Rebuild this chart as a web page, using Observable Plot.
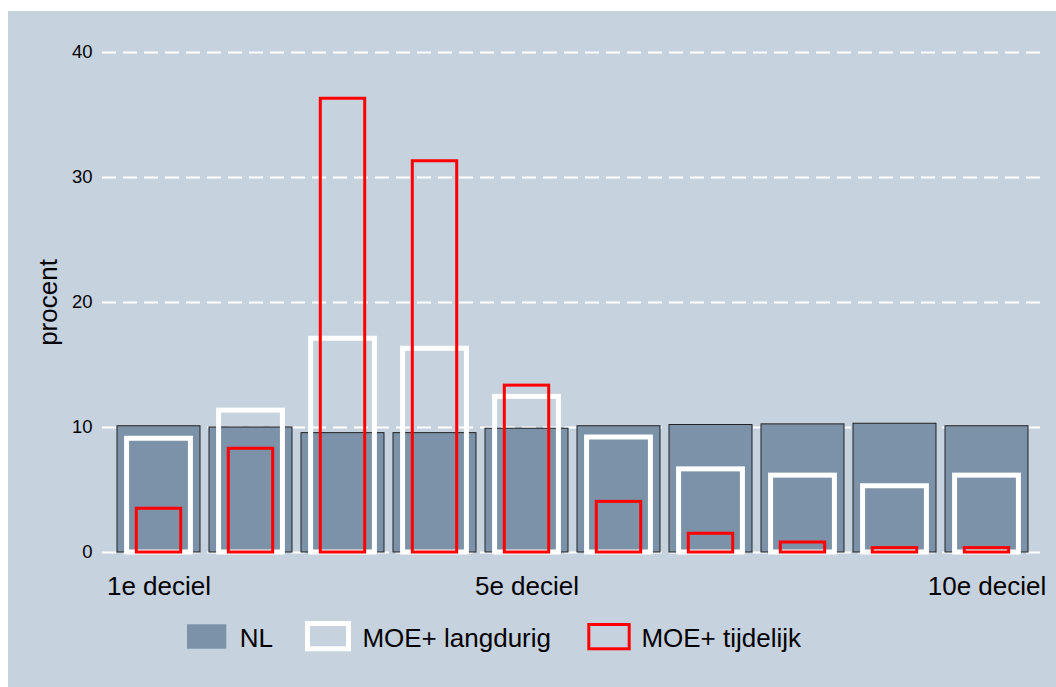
<!DOCTYPE html>
<html>
<head>
<meta charset="utf-8">
<script src="https://cdn.jsdelivr.net/npm/d3@7"></script>
<script src="https://cdn.jsdelivr.net/npm/@observablehq/plot@0.6"></script>
<style>
  html, body { margin: 0; padding: 0; background: #fff; }
  #page { position: relative; width: 1056px; height: 687px; background: #fff; overflow: hidden; }
  #panel { position: absolute; left: 8px; top: 11px; width: 1048px; height: 676px; background: #c6d2de; }
  #panel svg { position: absolute; left: 0; top: 0; }
</style>
</head>
<body>
<div id="page"><div id="panel"></div></div>
<script>
// ---- data ----
const deciles = [1, 2, 3, 4, 5, 6, 7, 8, 9, 10];
const nl = [10.1, 10.0, 9.55, 9.55, 9.9, 10.1, 10.2, 10.25, 10.3, 10.1];
const langdurig = [9.1, 11.35, 17.1, 16.3, 12.45, 9.2, 6.65, 6.15, 5.3, 6.15];
const tijdelijk = [3.5, 8.3, 36.3, 31.3, 13.35, 4.05, 1.5, 0.8, 0.35, 0.35];
const yTicks = [0, 10, 20, 30, 40];
const xTickValues = [1, 5, 10];
const xTickLabels = ["1e deciel", "5e deciel", "10e deciel"];
const seriesNames = ["NL", "MOE+ langdurig", "MOE+ tijdelijk"];
const yLabel = "procent";

const rows = deciles.map((d, i) => ({decile: d, nl: nl[i], lang: langdurig[i], tijd: tijdelijk[i]}));

const font = "'Liberation Sans', Arial, Helvetica, sans-serif";
const nlColor = "#7b92a8";

const chart = Plot.plot({
  width: 1048,
  height: 590,
  marginTop: 41,
  marginBottom: 49,
  marginLeft: 94,
  marginRight: 13,
  style: {background: "transparent", color: "#000", fontFamily: font},
  x: {type: "band", domain: deciles, range: [108.7, 1020], paddingInner: 0.098, paddingOuter: 0, align: 0.5},
  y: {domain: [0, 40], range: [541, 41]},
  marks: [
    Plot.ruleY(yTicks, {stroke: "#fff", strokeWidth: 2, strokeDasharray: "14,7"}),
    Plot.barY(rows, {x: "decile", y: "nl", fill: nlColor, stroke: "#222", strokeWidth: 1}),
    Plot.barY(rows, {x: "decile", y: "lang", fill: "none", stroke: "#fff", strokeWidth: 5, insetLeft: 9.6, insetRight: 9.6}),
    Plot.barY(rows, {x: "decile", y: "tijd", fill: "none", stroke: "#ff0000", strokeWidth: 3, insetLeft: 19.3, insetRight: 19.3}),
    Plot.axisY({ticks: yTicks, tickSize: 0, tickPadding: 10, fontSize: 18.5, label: null}),
    Plot.axisX({ticks: xTickValues, tickFormat: d => xTickLabels[xTickValues.indexOf(d)], tickSize: 0, tickPadding: 24.5, fontSize: 26, label: null}),
    Plot.text([yLabel], {frameAnchor: "left", textAnchor: "middle", dx: -54, rotate: -90, fontSize: 26, fill: "#000"})
  ]
});
document.getElementById("panel").appendChild(chart);

// ---- legend (below the plot) ----
const legend = d3.select("#panel").append("svg")
  .attr("width", 1048).attr("height", 70)
  .style("top", "599px")
  .style("font-family", font);
const oy = 599;
const items = [
  {name: seriesNames[0], rect: [179, 613.3, 39.3, 24.4], fill: nlColor, stroke: "none", sw: 0, tx: 231.7},
  {name: seriesNames[1], rect: [299.5, 612.5, 41, 25.3], fill: "none", stroke: "#fff", sw: 5, tx: 354.4},
  {name: seriesNames[2], rect: [580.8, 613.5, 40.4, 24.3], fill: "none", stroke: "#ff0000", sw: 3, tx: 633.4}
];
items.forEach(it => {
  legend.append("rect")
    .attr("x", it.rect[0]).attr("y", it.rect[1] - oy)
    .attr("width", it.rect[2]).attr("height", it.rect[3])
    .attr("fill", it.fill).attr("stroke", it.stroke).attr("stroke-width", it.sw);
  legend.append("text")
    .attr("x", it.tx).attr("y", 636 - oy)
    .attr("font-size", 26).attr("fill", "#000")
    .text(it.name);
});
</script>
</body>
</html>
